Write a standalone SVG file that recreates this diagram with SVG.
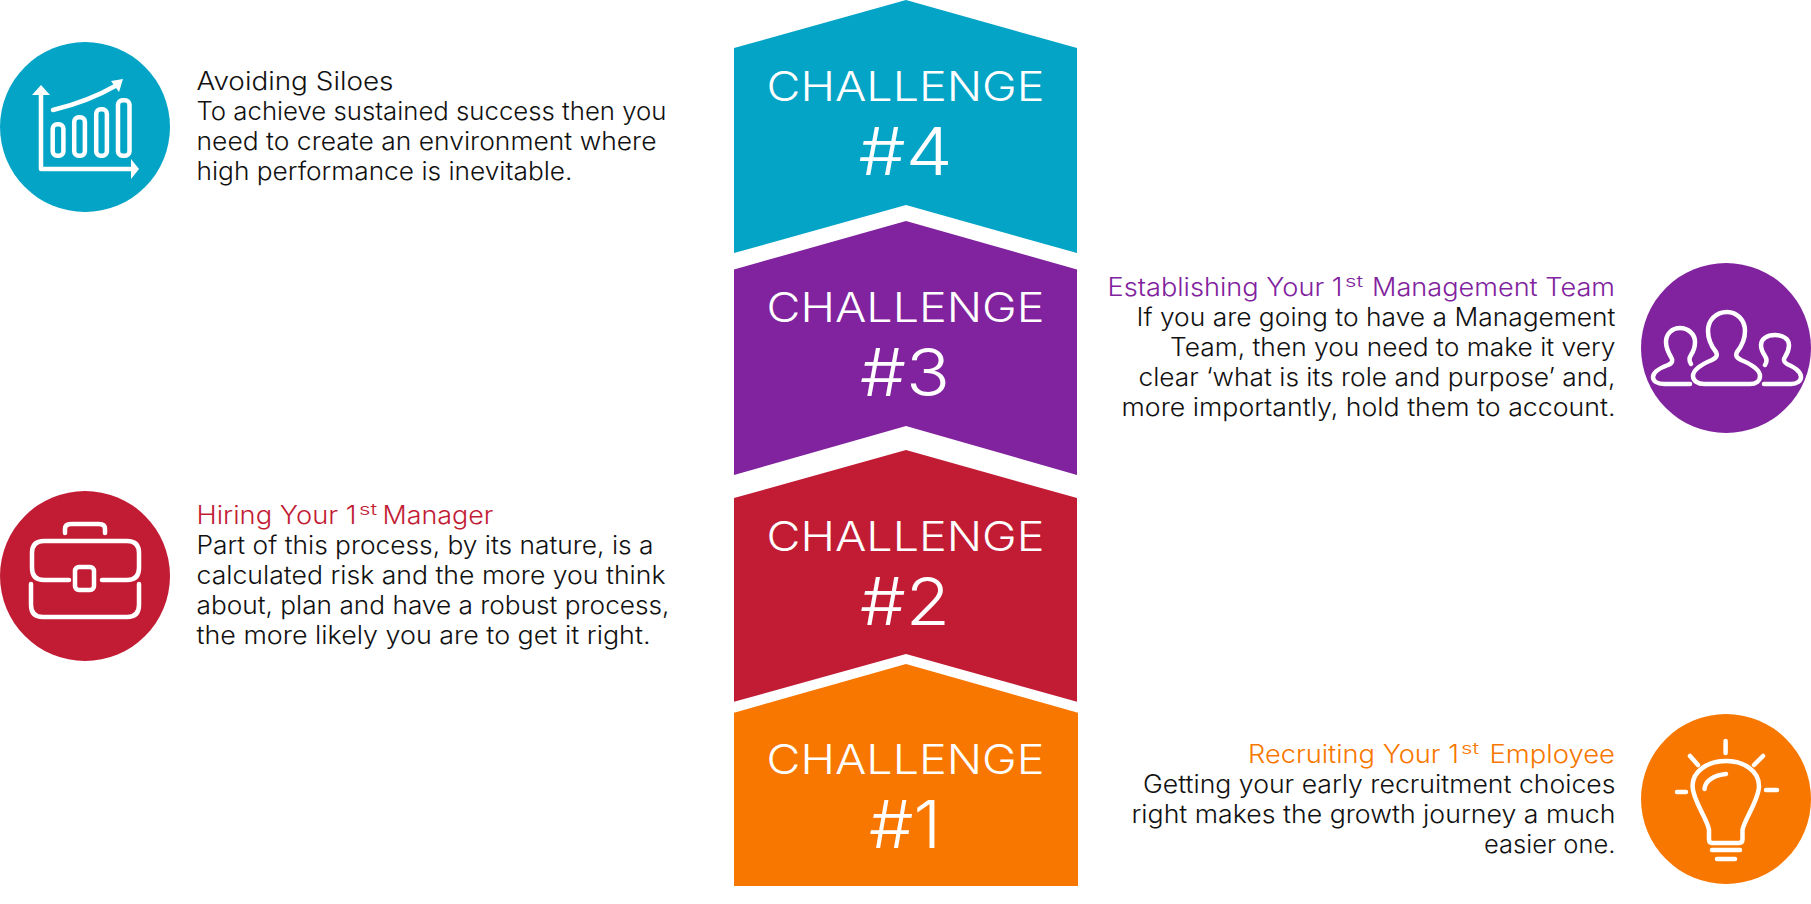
<svg xmlns="http://www.w3.org/2000/svg" width="1811" height="904" viewBox="0 0 1811 904">
<style>
text{font-family:"Inter","Lato","Liberation Sans",sans-serif;font-weight:300}
.b{font-size:25px;fill:#111}
.c{font-size:41px;fill:#fff;text-anchor:middle}
.n{font-size:66px;fill:#fff;text-anchor:middle}
.ic{fill:none;stroke:#fff;stroke-width:4.5;stroke-linecap:round;stroke-linejoin:round}
.hd{fill:#fff;stroke:none}
.s{font-size:15px}
.pu{fill:#81229e}.re{fill:#c21c35}.or{fill:#f77700}
</style>
<rect width="1811" height="904" fill="#fff"/>
<g id="challenge-4"><path d="M734 48L906 0L1077 48V253L906 205L734 253Z" fill="#04a4c7"/>
<text class="c" x="905.5" y="101" textLength="278" lengthAdjust="spacingAndGlyphs">CHALLENGE</text><text class="n" x="905.5" y="175" textLength="94" lengthAdjust="spacingAndGlyphs">#4</text></g>
<g id="challenge-3"><path d="M734 269.500L906 221L1077 269.500V475L906 426L734 475Z" fill="#81229e"/>
<text class="c" x="905.500" y="322" textLength="278" lengthAdjust="spacingAndGlyphs">CHALLENGE</text><text class="n" x="905" y="396" textLength="90" lengthAdjust="spacingAndGlyphs">#3</text></g>
<g id="challenge-2"><path d="M734 498L906 450L1077 498V701.700L906 654L734 701.700Z" fill="#c21c35"/>
<text class="c" x="905.500" y="551" textLength="278" lengthAdjust="spacingAndGlyphs">CHALLENGE</text><text class="n" x="905" y="625" textLength="90" lengthAdjust="spacingAndGlyphs">#2</text></g>
<g id="challenge-1"><path d="M734 712.700L906 664L1078 712.700V886H734Z" fill="#f77700"/>
<text class="c" x="905.500" y="774" textLength="278" lengthAdjust="spacingAndGlyphs">CHALLENGE</text><text class="n" x="905" y="848" textLength="72" lengthAdjust="spacingAndGlyphs">#1</text></g>

<g id="info-siloes">
<circle cx="85" cy="127" r="85" fill="#04a4c7"/>
<path class="ic" d="M41 90V169H135"/>
<path class="hd" d="M41 85L50 95H32ZM139 169L131 159V179Z"/>
<rect class="ic" x="52.700" y="124.200" width="10.700" height="31.600" rx="4.500"/><rect class="ic" x="74.200" y="117.200" width="10.700" height="38.600" rx="4.500"/><rect class="ic" x="96.200" y="109.200" width="10.700" height="46.600" rx="4.500"/><rect class="ic" x="118" y="100.200" width="11.500" height="55.600" rx="4.500"/>
<path class="ic" d="M53 110C78 104 98 96 117 85"/><path class="hd" d="M123 79L111 81L119 92Z"/>
<text class="b" x="196.500" y="90" textLength="197" lengthAdjust="spacingAndGlyphs">Avoiding Siloes</text>
<text class="b" x="196.500" y="120" textLength="470" lengthAdjust="spacingAndGlyphs">To achieve sustained success then you</text>
<text class="b" x="196.500" y="150" textLength="460" lengthAdjust="spacingAndGlyphs">need to create an environment where</text>
<text class="b" x="196.500" y="180" textLength="376" lengthAdjust="spacingAndGlyphs">high performance is inevitable.</text>
</g>

<g id="info-management">
<circle cx="1726" cy="348" r="85" fill="#81229e"/>
<path class="ic" d="M1727 312C1716 312 1708 320 1708 331C1708 340 1712 347 1716 352C1718 356 1716 358 1712 360C1700 365 1693 370 1693 376C1693 381 1698 384 1704 384L1750 384C1756 384 1760 381 1760 376C1760 370 1753 365 1741 360C1737 358 1735 356 1737 352C1741 347 1745 340 1745 331C1745 320 1737 312 1727 312Z"/>
<path class="ic" d="M1690 384L1664 384C1657 384 1653 381 1653 377C1653 372 1660 368 1668 365C1673 363 1673 360 1671 357C1668 352 1666 347 1666 342C1666 334 1672 328 1680 328C1688 328 1695 334 1695 342C1695 347 1693 352 1691 355C1689 358 1689 361 1691 364"/>
<path class="ic" d="M1765 365C1767 362 1767 359 1765 356C1763 353 1761 349 1761 345C1761 339 1767 335 1775 335C1783 335 1789 339 1789 345C1789 350 1787 354 1785 357C1783 360 1784 362 1787 364C1794 367 1801 371 1801 377C1801 381 1797 384 1791 384L1764 384"/>
<text class="b pu" style="fill:#81229e" x="1107.500" y="296" textLength="235" lengthAdjust="spacingAndGlyphs">Establishing Your 1</text>
<text class="s pu" x="1345" y="287" textLength="18" lengthAdjust="spacingAndGlyphs">st</text>
<text class="b pu" style="fill:#81229e" x="1372" y="296" textLength="243" lengthAdjust="spacingAndGlyphs">Management Team</text>
<text class="b" x="1136.500" y="326" textLength="479" lengthAdjust="spacingAndGlyphs">If you are going to have a Management</text>
<text class="b" x="1170" y="356" textLength="445.500" lengthAdjust="spacingAndGlyphs">Team, then you need to make it very</text>
<text class="b" x="1138.500" y="386" textLength="477" lengthAdjust="spacingAndGlyphs">clear ‘what is its role and purpose’ and,</text>
<text class="b" x="1121.500" y="416" textLength="494" lengthAdjust="spacingAndGlyphs">more importantly, hold them to account.</text>
</g>

<g id="info-manager">
<circle cx="85" cy="576" r="85" fill="#c21c35"/>
<path class="ic" d="M65 533V529Q65 524 71 524H99Q105 524 105 529V533"/>
<path class="ic" d="M69 580H44Q32 580 32 568V553Q32 541 44 541H127Q139 541 139 553V568Q139 580 127 580H102"/>
<rect class="ic" x="75" y="567" width="19" height="23" rx="4"/>
<path class="ic" d="M31 584V605Q31 617 43 617H127Q139 617 139 605V584"/>
<text class="b re" style="fill:#c21c35" x="196.500" y="524" textLength="160" lengthAdjust="spacingAndGlyphs">Hiring Your 1</text>
<text class="s re" x="359" y="515" textLength="18" lengthAdjust="spacingAndGlyphs">st</text>
<text class="b re" style="fill:#c21c35" x="382.500" y="524" textLength="111" lengthAdjust="spacingAndGlyphs">Manager</text>
<text class="b" x="196.500" y="554" textLength="457" lengthAdjust="spacingAndGlyphs">Part of this process, by its nature, is a</text>
<text class="b" x="196.500" y="584" textLength="469" lengthAdjust="spacingAndGlyphs">calculated risk and the more you think</text>
<text class="b" x="196.500" y="614" textLength="473" lengthAdjust="spacingAndGlyphs">about, plan and have a robust process,</text>
<text class="b" x="196.500" y="644" textLength="454" lengthAdjust="spacingAndGlyphs">the more likely you are to get it right.</text>
</g>

<g id="info-employee">
<circle cx="1726" cy="799" r="85" fill="#f77700"/>
<path class="ic" d="M1725.600 741V753M1690 756L1698 765M1763 756L1754 765M1677 792H1686M1766 790H1777"/>
<path class="ic" d="M1712 843L1739 843Q1742.500 843 1742.500 839L1742.500 830C1744 820 1759 800 1759 786C1759 771 1744 761 1726 761C1708 761 1692.500 771 1692.500 786C1692.500 800 1708 820 1709 830L1709 839Q1709 843 1712 843Z"/>
<path class="ic" d="M1704.500 789C1705 781 1714 775 1726 774M1712 850H1740M1717 859H1735"/>
<text class="b or" style="fill:#f77700" x="1248" y="763" textLength="211" lengthAdjust="spacingAndGlyphs">Recruiting Your 1</text>
<text class="s or" x="1461" y="754" textLength="18" lengthAdjust="spacingAndGlyphs">st</text>
<text class="b or" style="fill:#f77700" x="1489.500" y="763" textLength="125.500" lengthAdjust="spacingAndGlyphs">Employee</text>
<text class="b" x="1143" y="793" textLength="472.500" lengthAdjust="spacingAndGlyphs">Getting your early recruitment choices</text>
<text class="b" x="1131.500" y="823" textLength="484" lengthAdjust="spacingAndGlyphs">right makes the growth journey a much</text>
<text class="b" x="1484" y="853" textLength="131.500" lengthAdjust="spacingAndGlyphs">easier one.</text>
</g>
</svg>
